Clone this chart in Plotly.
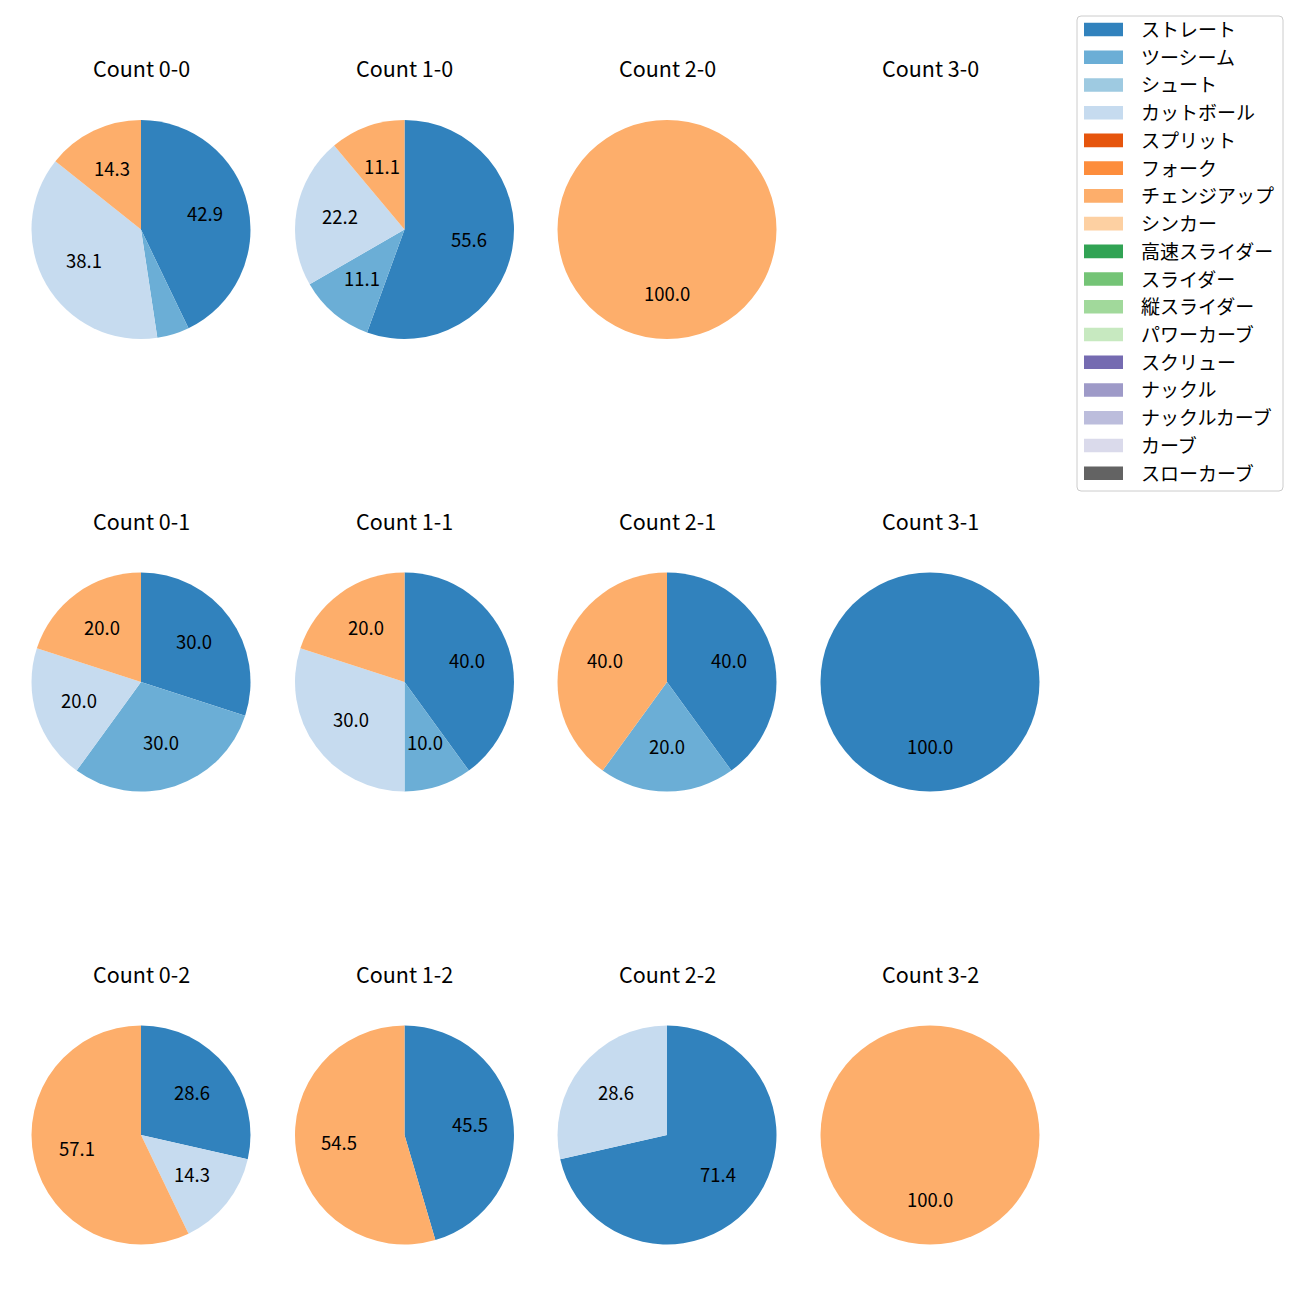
import math
import plotly.graph_objects as go

# ---------------- data ----------------
pitch_types = ["ストレート", "ツーシーム", "シュート", "カットボール", "スプリット", "フォーク",
               "チェンジアップ", "シンカー", "高速スライダー", "スライダー", "縦スライダー",
               "パワーカーブ", "スクリュー", "ナックル", "ナックルカーブ", "カーブ", "スローカーブ"]
pitch_colors = ["#3182bd", "#6baed6", "#9ecae1", "#c6dbef", "#e6550d", "#fd8d3c",
                "#fdae6b", "#fdd0a2", "#31a354", "#74c476", "#a1d99b",
                "#c7e9c0", "#756bb1", "#9e9ac8", "#bcbddc", "#dadaeb", "#636363"]

count_names = ["0-0", "1-0", "2-0", "3-0",
               "0-1", "1-1", "2-1", "3-1",
               "0-2", "1-2", "2-2", "3-2"]

count_0_0 = {"ストレート": 9, "ツーシーム": 1, "カットボール": 8, "チェンジアップ": 3}
count_1_0 = {"ストレート": 5, "ツーシーム": 1, "カットボール": 2, "チェンジアップ": 1}
count_2_0 = {"チェンジアップ": 1}
count_3_0 = {}
count_0_1 = {"ストレート": 3, "ツーシーム": 3, "カットボール": 2, "チェンジアップ": 2}
count_1_1 = {"ストレート": 4, "ツーシーム": 1, "カットボール": 3, "チェンジアップ": 2}
count_2_1 = {"ストレート": 2, "ツーシーム": 1, "チェンジアップ": 2}
count_3_1 = {"ストレート": 1}
count_0_2 = {"ストレート": 2, "カットボール": 1, "チェンジアップ": 4}
count_1_2 = {"ストレート": 5, "チェンジアップ": 6}
count_2_2 = {"ストレート": 5, "カットボール": 2}
count_3_2 = {"チェンジアップ": 1}

count_values = [count_0_0, count_1_0, count_2_0, count_3_0,
                count_0_1, count_1_1, count_2_1, count_3_1,
                count_0_2, count_1_2, count_2_2, count_3_2]

# ---------------- layout constants ----------------
W = H = 1300
OFF = 8  # page body margin in the browser
col_cx = [141, 404.5, 667, 930]
row_cy = [229.5, 682, 1135]
R = 109.5
TITLE_DY = 162
FONT = "Noto Sans CJK JP"
color_map = dict(zip(pitch_types, pitch_colors))


def px(x):
    return (x - OFF) / W


def py(y):
    return 1 - (y - OFF) / H


fig = go.Figure()
annotations = []

for idx, (name, vals) in enumerate(zip(count_names, count_values)):
    r, c = divmod(idx, 4)
    cx, cy = col_cx[c], row_cy[r]
    annotations.append(dict(x=px(cx), y=py(cy - TITLE_DY), xref="paper", yref="paper",
                            text=f"Count {name}", showarrow=False,
                            font=dict(family=FONT, size=21.5, color="black"),
                            xanchor="center", yanchor="middle"))
    labels = [p for p in pitch_types if vals.get(p, 0) > 0]
    values = [vals[p] for p in labels]
    if not values:
        continue
    fig.add_trace(go.Pie(
        labels=labels, values=values, sort=False, direction="clockwise", rotation=0,
        marker=dict(colors=[color_map[p] for p in labels], line=dict(width=0)),
        textinfo="none", hoverinfo="label+percent", showlegend=False,
        domain=dict(x=[px(cx - R), px(cx + R)], y=[py(cy + R), py(cy - R)]),
    ))
    total = sum(values)
    cum = 0.0
    for v in values:
        frac = v / total
        pct = frac * 100
        theta = math.radians(90 - 360 * (cum + frac / 2))
        cum += frac
        if pct < 5:
            continue
        lx = cx + 0.6 * R * math.cos(theta)
        ly = cy - 0.6 * R * math.sin(theta) - 2
        annotations.append(dict(x=px(lx), y=py(ly), xref="paper", yref="paper",
                                text=f"{pct:.1f}", showarrow=False,
                                font=dict(family=FONT, size=18.5, color="black"),
                                xanchor="center", yanchor="middle"))

# ---------------- manual legend (matplotlib style) ----------------
shapes = []
LX0, LX1, LY0, LY1 = 1077, 1283, 16, 491
rad = 4
path = (f"M {px(LX0 + rad)},{py(LY0)} L {px(LX1 - rad)},{py(LY0)} "
        f"Q {px(LX1)},{py(LY0)} {px(LX1)},{py(LY0 + rad)} "
        f"L {px(LX1)},{py(LY1 - rad)} Q {px(LX1)},{py(LY1)} {px(LX1 - rad)},{py(LY1)} "
        f"L {px(LX0 + rad)},{py(LY1)} Q {px(LX0)},{py(LY1)} {px(LX0)},{py(LY1 - rad)} "
        f"L {px(LX0)},{py(LY0 + rad)} Q {px(LX0)},{py(LY0)} {px(LX0 + rad)},{py(LY0)} Z")
shapes.append(dict(type="path", path=path, xref="paper", yref="paper",
                   line=dict(color="#cccccc", width=1), fillcolor="rgba(255,255,255,0.8)"))
ITEM0, STEP = 29.5, 27.73
for i, (p, col) in enumerate(zip(pitch_types, pitch_colors)):
    yc = ITEM0 + STEP * i
    shapes.append(dict(type="rect", xref="paper", yref="paper",
                       x0=px(1084), x1=px(1123), y0=py(yc - 6.8), y1=py(yc + 6.8),
                       line=dict(width=0), fillcolor=col))
    annotations.append(dict(x=px(1139), y=py(yc - 1), xref="paper", yref="paper",
                            text=p, showarrow=False,
                            font=dict(family=FONT, size=19, color="black"),
                            xanchor="left", yanchor="middle"))

fig.update_layout(width=W, height=H, margin=dict(l=0, r=0, t=0, b=0),
                  paper_bgcolor="white", plot_bgcolor="white",
                  annotations=annotations, shapes=shapes, showlegend=False,
                  font=dict(family=FONT))

fig.write_html("out.html")
